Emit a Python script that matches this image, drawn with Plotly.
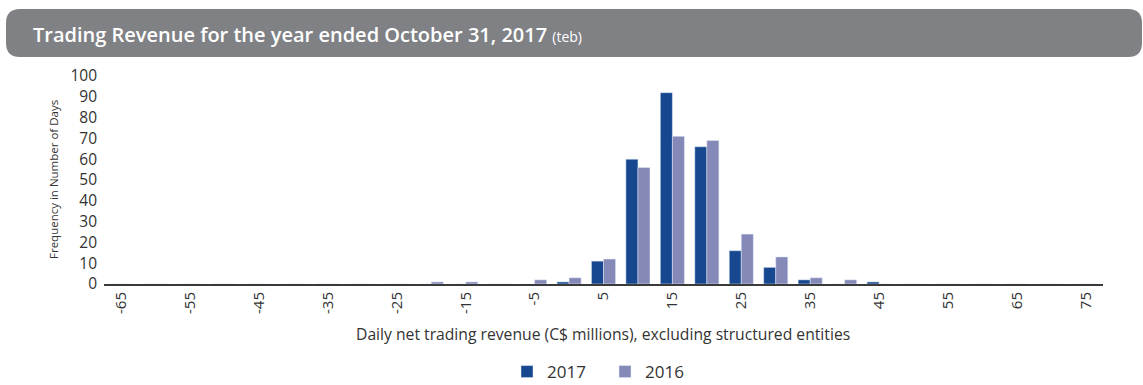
import plotly.graph_objects as go

# Daily net trading revenue buckets (C$ millions) and day counts per year
buckets = list(range(-65, 80, 5))
counts_2017 = {0: 1, 5: 11, 10: 60, 15: 92, 20: 66, 25: 16, 30: 8, 35: 2, 45: 1}
counts_2016 = {-20: 1, -15: 1, -5: 2, 0: 3, 5: 12, 10: 56, 15: 71, 20: 69,
               25: 24, 30: 13, 35: 3, 40: 2}
days_2017 = [counts_2017.get(b, 0) for b in buckets]
days_2016 = [counts_2016.get(b, 0) for b in buckets]
tick_labels = list(range(-65, 80, 10))

C2017 = "#17478f"
C2016 = "#8589b8"
TXT = "#333333"
FONT = "Open Sans"

fig = go.Figure()
fig.add_trace(go.Bar(x=buckets, y=days_2017, name="2017", marker_color=C2017))
fig.add_trace(go.Bar(x=buckets, y=days_2016, name="2016", marker_color=C2016))

L, R, T, B = 104, 40, 76, 101
W, H = 1143, 385
PW, PH = W - L - R, H - T - B

# rounded header bar, drawn in pixels relative to the plot's top-left corner
x0, x1 = 6 - L, 1142 - L
y0, y1 = T - 57, T - 9
r = 14
path = (f"M {x0 + r},{y1} L {x1 - r},{y1} Q {x1},{y1} {x1},{y1 - r} "
        f"L {x1},{y0 + r} Q {x1},{y0} {x1 - r},{y0} L {x0 + r},{y0} "
        f"Q {x0},{y0} {x0},{y0 + r} L {x0},{y1 - r} Q {x0},{y1} {x0 + r},{y1} Z")

fig.update_layout(
    width=W, height=H,
    margin=dict(l=L, r=R, t=T, b=B, autoexpand=False),
    paper_bgcolor="white", plot_bgcolor="white",
    barmode="group", bargap=0.3, bargroupgap=0,
    font=dict(family=FONT, color=TXT, size=14),
    shapes=[dict(type="path", path=path,
                 xref="paper", yref="paper",
                 xsizemode="pixel", ysizemode="pixel",
                 xanchor=0, yanchor=1,
                 fillcolor="#808185", line=dict(width=0), layer="below")],
    annotations=[
        dict(text="Trading Revenue for the year ended October 31, 2017 "
                  "<span style='font-size:14px;font-weight:400'>(teb)</span>",
             xref="paper", yref="paper", x=(31 - L) / PW, y=1,
             xanchor="left", yanchor="middle", yshift=T - 34,
             showarrow=False,
             font=dict(family=FONT, size=20, color="white", weight=600)),
        dict(text="Daily net trading revenue (C$ millions), excluding structured entities",
             xref="paper", yref="paper", x=(603 - L) / PW, y=0,
             xanchor="center", yanchor="middle", yshift=-(334 - (T + PH)),
             showarrow=False, font=dict(size=15.7, color=TXT)),
        dict(text="Frequency in Number of Days", textangle=-90,
             xref="paper", yref="paper", x=0, y=0.5,
             xanchor="center", yanchor="middle", xshift=53 - L,
             showarrow=False, font=dict(size=11.5, color=TXT)),
    ],
    xaxis=dict(
        range=[-67.5, 77.5], tickmode="array", tickvals=tick_labels,
        ticktext=[str(v) for v in tick_labels], tickangle=-90,
        showgrid=False, zeroline=False, showline=True, automargin=False,
        linecolor="#3a3a3a", linewidth=2, ticks="",
        tickfont=dict(size=15, color=TXT)),
    yaxis=dict(
        range=[0, 100], dtick=10, showgrid=False, zeroline=False,
        showline=False, ticks="", ticklabelstandoff=6, automargin=False,
        tickfont=dict(size=15.5, color=TXT)),
    legend=dict(orientation="h", x=(522 - 15 - L) / PW, xanchor="left",
                y=-(372 - (T + PH)) / PH, yanchor="middle",
                font=dict(size=17, color=TXT),
                itemwidth=30, entrywidth=53, entrywidthmode="pixels",
                traceorder="normal"),
)

fig.write_html("out.html")
